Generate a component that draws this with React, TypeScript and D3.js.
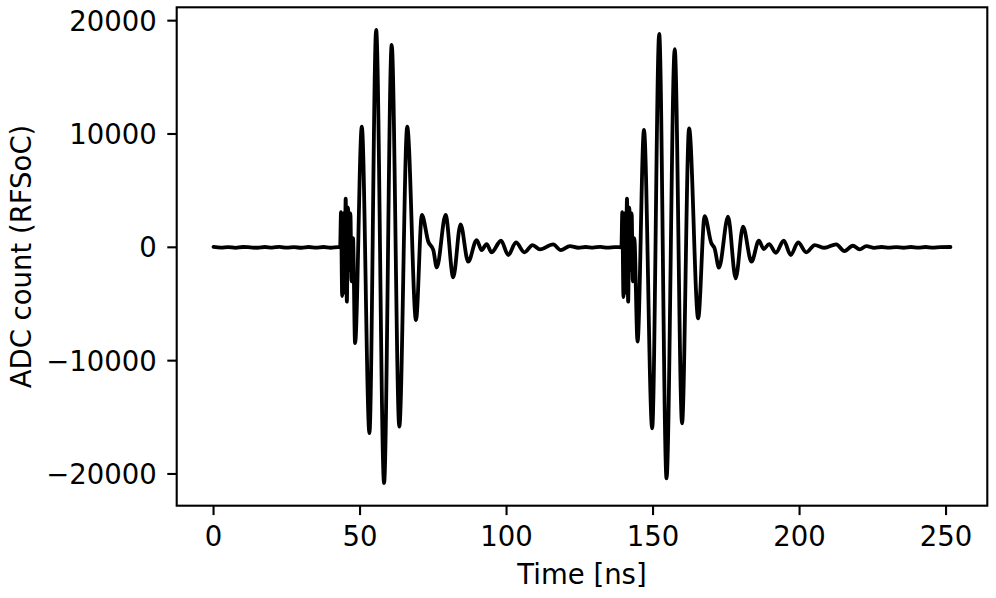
import React from "react";
import * as d3 from "d3";

// Waveform: two RFSoC ADC pulses, baseline in between.
const baseStartTime = [0, 2.5, 5, 7.5, 10, 12.5, 15, 17.5, 20, 22.5, 25, 27.5, 30, 32.5, 35, 37.5, 40, 42.5];
const baseStartValue = [40, -30, 20, -50, 30, 0, -40, 30, -20, 40, -30, 10, -40, 30, -20, 30, -40, 20];

const pulseATime = [
  43.2, 43.5, 43.9, 44.3, 44.7, 45.1, 45.5, 45.9, 46.3, 46.7, 47.1, 47.6, 48.3,
  50.6, 53.2, 55.5, 58.2, 60.8, 63.4, 66.1, 69.1, 71.1, 73.3, 75.0, 76.2, 79.2,
  81.8, 84.3, 86.9, 89.8, 91.5, 93.2, 94.9, 98.1, 100.6, 103.2, 106.1, 108.9,
  111.4, 115.9, 118.5, 121.6,
];
const pulseAValue = [
  0, 3100, -4300, 3000, -4000, 4300, -4800, 3500, -2000, 3000, -3000, 800, -8450,
  10640, -16390, 19180, -20800, 17860, -15830, 10640, -6420, 2850, 490, -240, -1770, 2850,
  -2650, 2030, -1270, 640, -240, 290, -440, 580, -680, 440, -440, 200,
  -180, 260, -240, 110,
];

const baseMidTime = [124.5, 127, 129.5, 132, 134.5, 137];
const baseMidValue = [-40, 30, -20, 40, -30, 20];

const pulseBTime = [
  139.2, 139.5, 139.9, 140.3, 140.7, 141.1, 141.5, 141.9, 142.3, 142.7, 143.1, 143.6, 144.7,
  146.9, 149.7, 152.1, 154.6, 157.4, 159.9, 162.3, 165.4, 167.6, 169.9, 171.0, 172.5, 175.6,
  178.2, 180.7, 183.6, 186.1, 187.8, 189.6, 191.9, 194.6, 197.0, 199.5, 202.3, 205.2,
  208.5, 212.5, 215.3, 218.2, 220.5, 222.8,
];
const pulseBValue = [
  0, 3100, -4400, 3000, -4000, 4300, -4800, 3500, -2000, 3000, -3000, 800, -8330,
  10350, -15980, 18830, -20390, 17480, -15530, 10500, -6270, 2760, 350, -90, -1800, 2700,
  -2740, 1820, -1270, 580, -150, 290, -480, 580, -680, 440, -440, 200,
  -40, 260, -330, 140, -180, 110,
];

const baseEndTime = [225.5, 228, 230.5, 233, 235.5, 238, 240.5, 243, 245.5, 248, 251.5];
const baseEndValue = [-50, 30, -30, 20, -40, 30, -20, 30, -30, 20, 30];

const xTicks = [0, 50, 100, 150, 200, 250];
const yTicks = [-20000, -10000, 0, 10000, 20000];

const W = 996;
const H = 598;
const plot = { left: 176.7, right: 987.3, top: 7.3, bottom: 505.7 };
const FONT = "'DejaVu Sans', sans-serif";
const FS = 27.5;

export default function App() {
  const times = [...baseStartTime, ...pulseATime, ...baseMidTime, ...pulseBTime, ...baseEndTime];
  const values = [...baseStartValue, ...pulseAValue, ...baseMidValue, ...pulseBValue, ...baseEndValue];
  const points: [number, number][] = times.map((t, i) => [t, values[i]]);

  // matplotlib-style 5% margins
  const [tMin, tMax] = d3.extent(times) as [number, number];
  const [vMin, vMax] = d3.extent(values) as [number, number];
  const tPad = (tMax - tMin) * 0.05;
  const vPad = (vMax - vMin) * 0.05;

  const x = d3.scaleLinear().domain([tMin - tPad, tMax + tPad]).range([plot.left, plot.right]);
  const y = d3.scaleLinear().domain([vMin - vPad, vMax + vPad]).range([plot.bottom, plot.top]);

  const line = d3
    .line<[number, number]>()
    .x((d) => x(d[0]))
    .y((d) => y(d[1]))
    .curve(d3.curveMonotoneX);

  const fmt = d3.format("d");
  const tickLen = 9.4;

  return (
    <div style={{ position: "absolute", left: 0, top: 0 }}>
      <svg width={W} height={H} style={{ display: "block", background: "#fff" }}>
        <path
          d={line(points) || ""}
          fill="none"
          stroke="#000"
          strokeWidth={3.8}
          strokeLinejoin="round"
          strokeLinecap="round"
        />
        <rect
          x={plot.left}
          y={plot.top}
          width={plot.right - plot.left}
          height={plot.bottom - plot.top}
          fill="none"
          stroke="#000"
          strokeWidth={2.1}
        />
        {xTicks.map((t) => (
          <g key={t} transform={`translate(${x(t)},${plot.bottom})`}>
            <line y2={tickLen} stroke="#000" strokeWidth={2.1} />
            <text y={40.5} textAnchor="middle" fontFamily={FONT} fontSize={FS}>
              {fmt(t)}
            </text>
          </g>
        ))}
        {yTicks.map((v) => (
          <g key={v} transform={`translate(${plot.left},${y(v)})`}>
            <line x2={-tickLen} stroke="#000" strokeWidth={2.1} />
            <text x={-20} dy="0.36em" textAnchor="end" fontFamily={FONT} fontSize={FS}>
              {fmt(v)}
            </text>
          </g>
        ))}
        <text
          x={(plot.left + plot.right) / 2}
          y={584}
          textAnchor="middle"
          fontFamily={FONT}
          fontSize={FS}
        >
          Time [ns]
        </text>
        <text
          transform={`translate(31,${(plot.top + plot.bottom) / 2}) rotate(-90)`}
          textAnchor="middle"
          fontFamily={FONT}
          fontSize={FS}
        >
          ADC count (RFSoC)
        </text>
      </svg>
    </div>
  );
}
